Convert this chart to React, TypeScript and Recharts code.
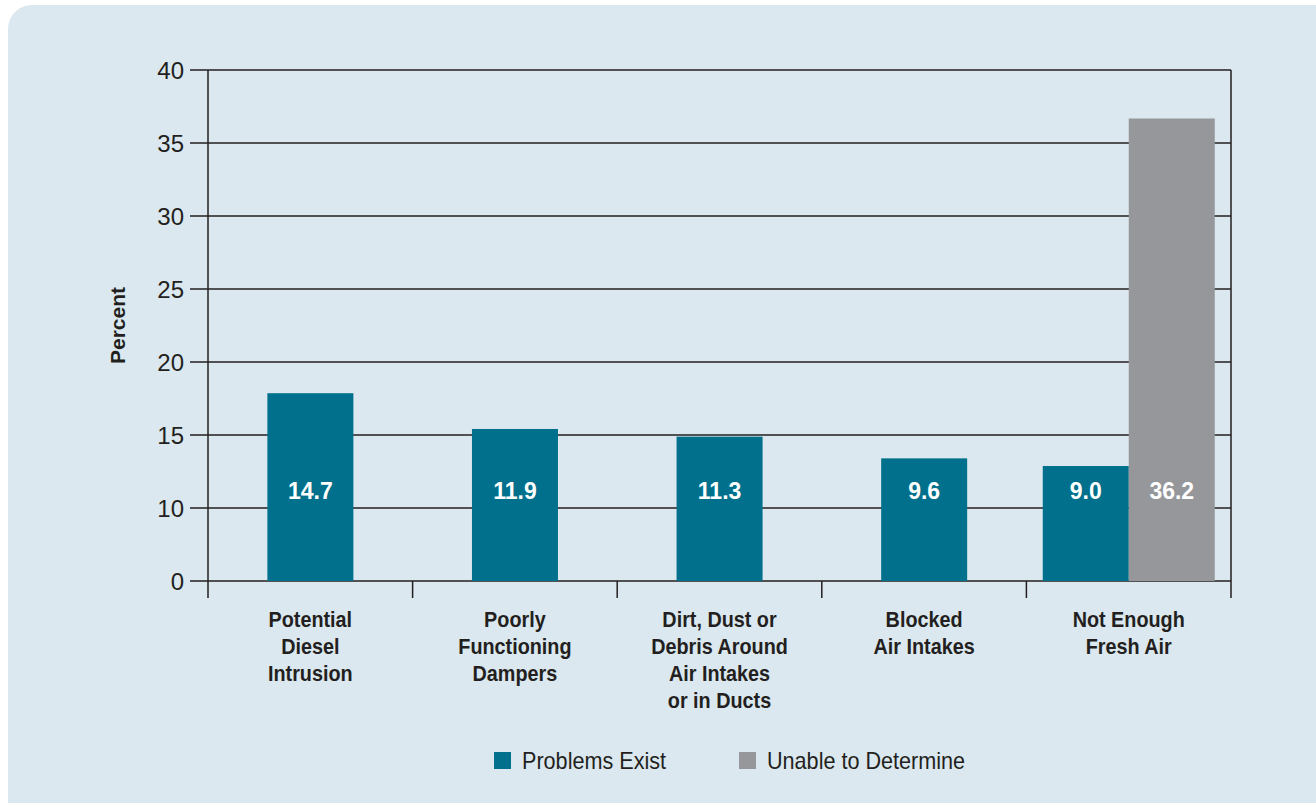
import {
  Bar,
  BarChart,
  CartesianGrid,
  LabelList,
  Legend,
  ReferenceLine,
  XAxis,
  YAxis,
} from "recharts";

const CATEGORIES = [
  "Potential\nDiesel\nIntrusion",
  "Poorly\nFunctioning\nDampers",
  "Dirt, Dust or\nDebris Around\nAir Intakes\nor in Ducts",
  "Blocked\nAir Intakes",
  "Not Enough\nFresh Air",
];
const PROBLEMS_EXIST = [14.7, 11.9, 11.3, 9.6, 9.0];
const UNABLE_TO_DETERMINE = [null, null, null, null, 36.2];

// the source prints 8 evenly spaced labels over a 0-40 scale (no "5")
const Y_TICK_LABELS = ["0", "10", "15", "20", "25", "30", "35", "40"];
const Y_MAX = 40;

const TEAL = "#00708c";
const GRAY = "#96979b";
const INK = "#231f20";
const CARD_BG = "#dbe8ef";
const SANS = "'Liberation Sans', Arial, sans-serif";

const data = CATEGORIES.map((name, i) => ({
  name,
  problems: PROBLEMS_EXIST[i],
  unable: UNABLE_TO_DETERMINE[i],
}));

const yTicks = Y_TICK_LABELS.map((_, i) => (i * Y_MAX) / (Y_TICK_LABELS.length - 1));

const isSingle = (index: number) => data[index]?.unable == null;

function CategoryTick(props: any) {
  const { x, y, payload, width, visibleTicksCount, index } = props;
  const half =
    payload && payload.offset > 0 ? payload.offset : (width || 1023) / (visibleTicksCount || 5) / 2;
  const lines = String(payload.value).split("\n");
  const isLast = index === (visibleTicksCount || CATEGORIES.length) - 1;
  return (
    <g>
      <line x1={x - half} x2={x - half} y1={y} y2={y + 17} stroke={INK} strokeWidth={1.5} />
      {isLast && <line x1={x + half} x2={x + half} y1={y} y2={y + 17} stroke={INK} strokeWidth={1.5} />}
      <g transform={`translate(${x},${y}) scale(0.9,1)`}>
        <text x={0} y={0} textAnchor="middle" fill={INK} fontFamily={SANS} fontWeight={700} fontSize={22}>
          {lines.map((line, i) => (
            <tspan key={i} x={0} dy={i === 0 ? 46 : 27}>
              {line}
            </tspan>
          ))}
        </text>
      </g>
    </g>
  );
}

function ProblemsShape(props: any) {
  const { x, y, width, height, index } = props;
  const shift = isSingle(index) ? width / 2 : 0;
  return <rect x={x + shift} y={y} width={width} height={height} fill={TEAL} />;
}

function valueLabel(series: "problems" | "unable") {
  return (props: any) => {
    const { x, y, width, height, value, index } = props;
    if (value == null) return null;
    const shift = series === "problems" && isSingle(index) ? width / 2 : 0;
    const bottom = y + height;
    return (
      <text
        x={x + width / 2 + shift}
        y={bottom - 90}
        textAnchor="middle"
        dominantBaseline="central"
        fill="#ffffff"
        fontFamily={SANS}
        fontWeight={700}
        fontSize={23}
      >
        {Number(value).toFixed(1)}
      </text>
    );
  };
}

const LEGEND_ITEMS = [
  { label: "Problems Exist", color: TEAL, left: 494 },
  { label: "Unable to Determine", color: GRAY, left: 739 },
];

function LegendContent() {
  return (
    <div style={{ position: "relative", width: 1316, height: 31, fontFamily: SANS, fontSize: 24, color: INK }}>
      {LEGEND_ITEMS.map((it) => (
        <div
          key={it.label}
          style={{ position: "absolute", left: it.left, top: 0, height: 31, display: "flex", alignItems: "center" }}
        >
          <span style={{ width: 17, height: 17, background: it.color, display: "inline-block" }} />
          <span
            style={{
              marginLeft: 11,
              display: "inline-block",
              whiteSpace: "nowrap",
              transform: "scaleX(0.9)",
              transformOrigin: "left center",
            }}
          >
            {it.label}
          </span>
        </div>
      ))}
    </div>
  );
}

export default function App() {
  return (
    <div style={{ position: "absolute", left: 0, top: 0, width: 1316, height: 803, background: "#ffffff", overflow: "hidden" }}>
      <div
        style={{
          position: "absolute",
          left: 8,
          top: 5,
          width: 1340,
          height: 830,
          background: CARD_BG,
          borderRadius: 24,
        }}
      />
      <div style={{ position: "absolute", left: 0, top: 0 }}>
        <BarChart
          width={1316}
          height={803}
          data={data}
          margin={{ top: 70, right: 85, bottom: 22, left: 100 }}
          barCategoryGap="8%"
          barGap={0}
          style={{ fontFamily: SANS }}
        >
          <CartesianGrid
            xAxisId="cat"
            yAxisId="left"
            vertical={false}
            stroke={INK}
            strokeWidth={1.5}
            strokeDasharray=""
          />
          <XAxis
            xAxisId="cat"
            dataKey="name"
            height={140}
            axisLine={false}
            tickLine={false}
            tickSize={0}
            tickMargin={0}
            interval={0}
            tick={<CategoryTick />}
          />
          <YAxis
            yAxisId="left"
            domain={[0, Y_MAX]}
            ticks={yTicks}
            interval={0}
            width={108}
            tickSize={18}
            tickMargin={6}
            tickFormatter={(_v: number, i: number) => Y_TICK_LABELS[i]}
            tick={{ fill: INK, fontSize: 24, fontFamily: SANS }}
            axisLine={{ stroke: INK, strokeWidth: 1.5 }}
            tickLine={{ stroke: INK, strokeWidth: 1.5 }}
            label={{
              value: "Percent",
              angle: -90,
              position: "insideLeft",
              offset: 18,
              style: { textAnchor: "middle", fill: INK, fontFamily: SANS, fontWeight: 700, fontSize: 21 },
            }}
          />
          <ReferenceLine
            xAxisId="cat"
            yAxisId="left"
            x={CATEGORIES[CATEGORIES.length - 1]}
            position="end"
            stroke={INK}
            strokeWidth={1.5}
          />
          <Legend
            verticalAlign="bottom"
            height={60}
            wrapperStyle={{ left: 0, top: 745, width: 1316 }}
            content={<LegendContent />}
          />
          <Bar
            dataKey="problems"
            name="Problems Exist"
            xAxisId="cat"
            yAxisId="left"
            fill={TEAL}
            shape={<ProblemsShape />}
            isAnimationActive={false}
          >
            <LabelList dataKey="problems" content={valueLabel("problems")} />
          </Bar>
          <Bar
            dataKey="unable"
            name="Unable to Determine"
            xAxisId="cat"
            yAxisId="left"
            fill={GRAY}
            isAnimationActive={false}
          >
            <LabelList dataKey="unable" content={valueLabel("unable")} />
          </Bar>
        </BarChart>
      </div>
    </div>
  );
}
